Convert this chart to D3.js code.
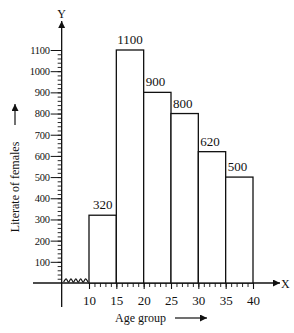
<!DOCTYPE html>
<html>
<head>
<meta charset="utf-8">
<script src="https://cdn.jsdelivr.net/npm/d3@7"></script>
<style>
  body { margin: 0; background: #fff; }
  text { font-family: "Liberation Serif", "DejaVu Serif", serif; fill: #111; }
</style>
</head>
<body>
<div id="chart"></div>
<script>
// age groups (class intervals) and number of literate females
const groupStart = [10, 15, 20, 25, 30, 35];
const groupEnd = [15, 20, 25, 30, 35, 40];
const females = [320, 1100, 900, 800, 620, 500];
const xTicks = [10, 15, 20, 25, 30, 35, 40];
const yTicks = [100, 200, 300, 400, 500, 600, 700, 800, 900, 1000, 1100];

const W = 294, H = 333;

const svg = d3.select("#chart")
    .append("svg")
    .attr("width", W)
    .attr("height", H);

const x = d3.scaleLinear().domain([10, 40]).range([89, 253]);
const y = d3.scaleLinear().domain([0, 1100]).range([283, 50]);

const originX = x(5); // axis break sits between origin and 10
const ink = "#111";

// arrow heads
const defs = svg.append("defs");
defs.append("marker")
    .attr("id", "arrow")
    .attr("viewBox", "0 0 10 10")
    .attr("refX", 10).attr("refY", 5)
    .attr("markerWidth", 8).attr("markerHeight", 7)
    .attr("markerUnits", "userSpaceOnUse")
    .attr("orient", "auto")
    .append("path")
    .attr("d", "M0,0L10,5L0,10z")
    .attr("fill", ink);

// minor y ticks, every 20
const yMinor = d3.range(20, 1101, 20);
svg.append("g")
    .attr("transform", `translate(${originX},0)`)
    .call(d3.axisLeft(y).tickValues(yMinor).tickSize(4).tickFormat(""))
    .call(g => g.select(".domain").remove())
    .call(g => g.selectAll("line").attr("stroke", ink).attr("stroke-width", 0.9));

// major y ticks with labels
svg.append("g")
    .attr("transform", `translate(${originX},0)`)
    .call(d3.axisLeft(y).tickValues(yTicks).tickSize(11).tickPadding(1).tickFormat(d3.format("d")))
    .call(g => g.select(".domain").remove())
    .call(g => g.selectAll("line").attr("stroke", ink).attr("stroke-width", 1))
    .call(g => g.selectAll("text")
        .style("font-family", "Liberation Serif")
        .style("font-size", "10.5px")
        .style("letter-spacing", "-0.3px")
        .attr("fill", ink));

// minor x ticks, every 1
svg.append("g")
    .attr("transform", `translate(0,${y(0)})`)
    .call(d3.axisBottom(x).tickValues(d3.range(10, 41, 1)).tickSize(4).tickFormat(""))
    .call(g => g.select(".domain").remove())
    .call(g => g.selectAll("line").attr("stroke", ink).attr("stroke-width", 0.9));

// major x ticks with labels
svg.append("g")
    .attr("transform", `translate(0,${y(0)})`)
    .call(d3.axisBottom(x).tickValues(xTicks).tickSize(6).tickPadding(7))
    .call(g => g.select(".domain").remove())
    .call(g => g.selectAll("line").attr("stroke", ink).attr("stroke-width", 1.1))
    .call(g => g.selectAll("text")
        .style("font-family", "Liberation Serif")
        .style("font-size", "13px")
        .attr("fill", ink));

// axis lines
svg.append("line")
    .attr("x1", 33).attr("x2", 280)
    .attr("y1", y(0)).attr("y2", y(0))
    .attr("stroke", ink).attr("stroke-width", 1.3)
    .attr("marker-end", "url(#arrow)");

svg.append("line")
    .attr("x1", originX).attr("x2", originX)
    .attr("y1", 307).attr("y2", 21)
    .attr("stroke", ink).attr("stroke-width", 1.3)
    .attr("marker-end", "url(#arrow)");

// kink (axis break) between origin and 10
const kinkN = 10;
const kinkPts = d3.range(0, kinkN + 1).map(i => [
    originX + 2 + i * (x(10) - originX - 3) / kinkN,
    y(0) - 2.5 + (i % 2 ? -1.6 : 1.6)
]);
svg.append("path")
    .attr("d", d3.line().curve(d3.curveCardinal)(kinkPts))
    .attr("fill", "none")
    .attr("stroke", ink)
    .attr("stroke-width", 1.2);

// histogram bars
svg.selectAll("rect.bar")
    .data(females)
    .join("rect")
    .attr("class", "bar")
    .attr("x", (d, i) => x(groupStart[i]))
    .attr("y", d => y(d))
    .attr("width", (d, i) => x(groupEnd[i]) - x(groupStart[i]))
    .attr("height", d => y(0) - y(d))
    .attr("fill", "#fff")
    .attr("stroke", ink)
    .attr("stroke-width", 1.3);

// value labels on top of bars
svg.selectAll("text.val")
    .data(females)
    .join("text")
    .attr("class", "val")
    .attr("x", (d, i) => i < 2 ? (x(groupStart[i]) + x(groupEnd[i])) / 2 : x(groupStart[i]) + 2)
    .attr("y", d => y(d) - 6)
    .attr("text-anchor", (d, i) => i < 2 ? "middle" : "start")
    .style("font-size", "13px")
    .text(d => d);

// axis letters
svg.append("text")
    .attr("x", originX).attr("y", 18)
    .attr("text-anchor", "middle")
    .style("font-size", "12px")
    .text("Y");

svg.append("text")
    .attr("x", 281).attr("y", 288)
    .style("font-size", "12px")
    .text("X");

// axis titles
svg.append("text")
    .attr("transform", "translate(19,187) rotate(-90)")
    .attr("text-anchor", "middle")
    .style("font-size", "12px")
    .text("Literate of females");

svg.append("line")
    .attr("x1", 15).attr("x2", 15)
    .attr("y1", 125).attr("y2", 104)
    .attr("stroke", ink).attr("stroke-width", 1.2)
    .attr("marker-end", "url(#arrow)");

svg.append("text")
    .attr("x", 115).attr("y", 322)
    .style("font-size", "12px")
    .text("Age group");

svg.append("line")
    .attr("x1", 175).attr("x2", 207)
    .attr("y1", 318).attr("y2", 318)
    .attr("stroke", ink).attr("stroke-width", 1.2)
    .attr("marker-end", "url(#arrow)");
</script>
</body>
</html>
